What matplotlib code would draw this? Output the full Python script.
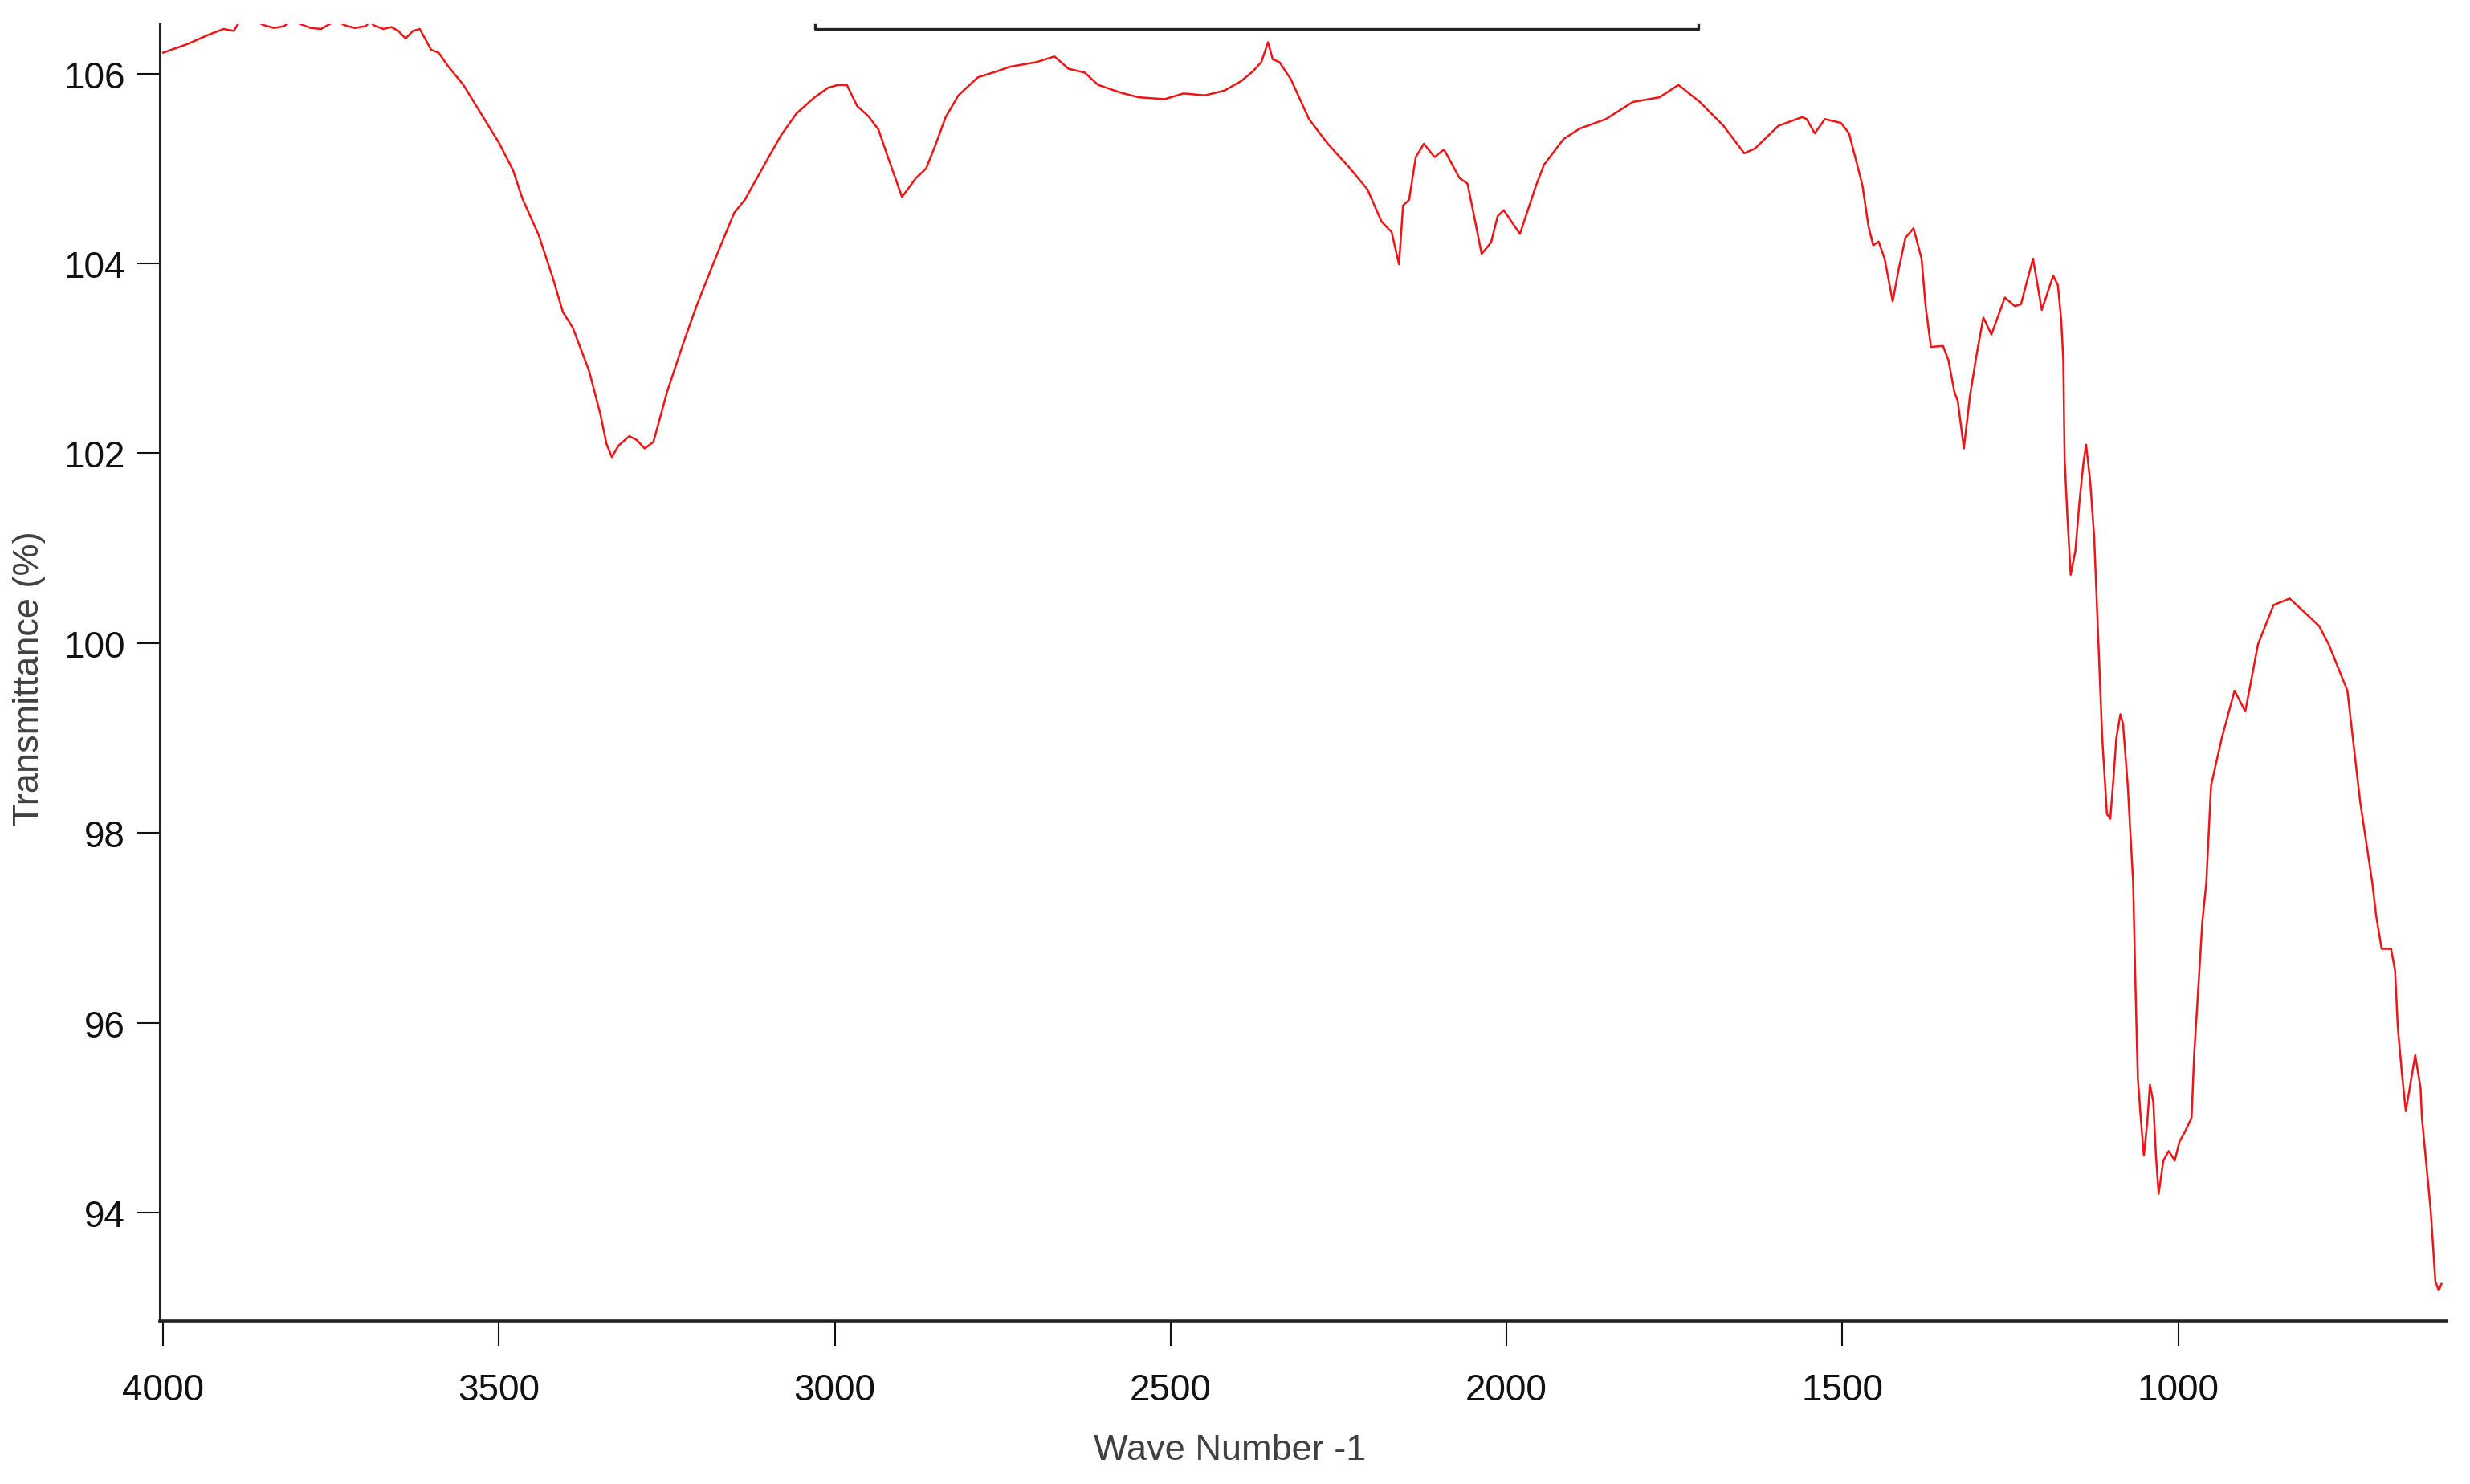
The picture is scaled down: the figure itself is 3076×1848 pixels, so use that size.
import matplotlib
matplotlib.use("Agg")
import matplotlib.pyplot as plt
import numpy as np

# IR spectrum (wavenumber, transmittance %)
wavenumber = [
    4000, 3964, 3932, 3910, 3895, 3885, 3870, 3850, 3835, 3820, 3808, 3795,
    3780, 3765, 3755, 3742, 3730, 3715, 3698, 3692, 3687, 3672, 3660, 3650,
    3639, 3628, 3618, 3601, 3590, 3575, 3553, 3527, 3500, 3479, 3465, 3441,
    3420, 3405, 3390, 3366, 3349, 3340, 3332, 3322, 3306, 3295, 3283, 3270,
    3250, 3226, 3206, 3178, 3150, 3134, 3104, 3080, 3057, 3030, 3010, 2995,
    2982, 2967, 2950, 2935, 2920, 2900, 2879, 2864, 2850, 2835, 2816, 2787,
    2760, 2740, 2700, 2673, 2652, 2628, 2608, 2575, 2548, 2509, 2481, 2449,
    2420, 2395, 2378, 2365, 2355, 2348, 2338, 2321, 2294, 2266, 2234, 2207,
    2186, 2171, 2160, 2154, 2145, 2135, 2123, 2107, 2093, 2070, 2058, 2046,
    2037, 2023, 2013, 2004, 1980, 1956, 1944, 1915, 1891, 1852, 1812, 1772,
    1744, 1712, 1677, 1646, 1630, 1595, 1560, 1553, 1541, 1526, 1502, 1490,
    1479, 1470, 1461, 1454, 1446, 1437, 1425, 1416, 1406, 1394, 1382, 1376,
    1368, 1350, 1342, 1333, 1328, 1319, 1310, 1300, 1290, 1278, 1258, 1243,
    1234, 1216, 1203, 1186, 1179, 1174, 1171, 1169, 1165, 1160, 1153, 1147,
    1141, 1137, 1131, 1125, 1113, 1106, 1101, 1096, 1092, 1086, 1082, 1075,
    1067, 1063, 1060, 1055, 1051, 1046, 1042, 1037, 1033, 1029, 1022, 1014,
    1005, 998, 990, 980, 976, 970, 964, 958, 951, 935, 916, 900,
    881, 858, 834, 811, 790, 776, 748, 729, 711, 705, 697, 683,
    677, 673, 667, 661, 647, 639, 637, 624, 617, 612, 608,
]
transmittance = [
    106.22, 106.31, 106.41, 106.47, 106.45, 106.56, 106.58, 106.51, 106.48, 106.50, 106.56, 106.52,
    106.48, 106.47, 106.51, 106.56, 106.51, 106.48, 106.50, 106.56, 106.51, 106.47, 106.49, 106.45,
    106.37, 106.45, 106.47, 106.25, 106.22, 106.07, 105.88, 105.58, 105.27, 104.98, 104.68, 104.30,
    103.85, 103.49, 103.32, 102.87, 102.41, 102.10, 101.96, 102.08, 102.18, 102.14, 102.05, 102.12,
    102.64, 103.15, 103.55, 104.05, 104.53, 104.67, 105.05, 105.35, 105.58, 105.75, 105.85, 105.88,
    105.88, 105.66, 105.55, 105.41, 105.10, 104.70, 104.90, 105.00, 105.25, 105.54, 105.77, 105.96,
    106.02, 106.07, 106.12, 106.18, 106.05, 106.01, 105.88, 105.80, 105.75, 105.73, 105.79, 105.77,
    105.82, 105.92, 106.02, 106.12, 106.33, 106.15, 106.12, 105.94, 105.52, 105.26, 105.01, 104.78,
    104.44, 104.33, 103.99, 104.61, 104.67, 105.12, 105.26, 105.12, 105.20, 104.90, 104.84, 104.42,
    104.10, 104.22, 104.50, 104.56, 104.31, 104.82, 105.04, 105.31, 105.42, 105.52, 105.70, 105.75,
    105.88, 105.70, 105.45, 105.16, 105.21, 105.45, 105.54, 105.52, 105.37, 105.52, 105.48, 105.37,
    105.07, 104.82, 104.39, 104.19, 104.23, 104.05, 103.60, 103.94, 104.27, 104.37, 104.05, 103.55,
    103.12, 103.13, 102.98, 102.64, 102.55, 102.05, 102.60, 103.04, 103.43, 103.25, 103.64, 103.55,
    103.57, 104.05, 103.51, 103.87, 103.77, 103.40, 102.98, 101.94, 101.35, 100.72, 100.97, 101.48,
    101.90, 102.09, 101.71, 101.12, 99.00, 98.20, 98.15, 98.60, 99.00, 99.25, 99.15, 98.50,
    97.48, 96.24, 95.42, 94.94, 94.60, 94.95, 95.35, 95.17, 94.60, 94.20, 94.55, 94.65,
    94.55, 94.75, 94.85, 95.00, 95.68, 96.36, 97.06, 97.48, 98.50, 99.00, 99.50, 99.28,
    99.99, 100.40, 100.47, 100.32, 100.18, 99.99, 99.50, 98.33, 97.48, 97.12, 96.78, 96.78,
    96.55, 95.96, 95.48, 95.07, 95.66, 95.31, 95.00, 94.03, 93.28, 93.18, 93.25,
]

x_ticks = [4000, 3500, 3000, 2500, 2000, 1500, 1000]
y_ticks = [94, 96, 98, 100, 102, 104, 106]
bracket_range = [3030, 1714]

tick_font = ['Liberation Sans Narrow', 'Liberation Sans', 'DejaVu Sans']
label_font = ['Liberation Sans', 'DejaVu Sans']

fig = plt.figure(figsize=(30.76, 18.49), dpi=100)
ax = fig.add_axes([0.0647, 0.1098, 0.9259, 0.8734])

ax.plot(wavenumber, transmittance, color='#f01414', linewidth=1.8)

# bracket line near the top
y_top = 106.52
ax.plot([bracket_range[0], bracket_range[0], bracket_range[1], bracket_range[1]],
        [y_top - 0.01, y_top - 0.05, y_top - 0.05, y_top - 0.01],
        color='#222222', linewidth=2.4, clip_on=False)

ax.set_xlim(4005, 600)
ax.set_ylim(92.86, y_top)

ax.spines['top'].set_visible(False)
ax.spines['right'].set_visible(False)
ax.spines['left'].set_linewidth(2.2)
ax.spines['bottom'].set_linewidth(2.6)
ax.spines['left'].set_color('#222222')
ax.spines['bottom'].set_color('#222222')

ax.set_xticks(x_ticks)
ax.set_yticks(y_ticks)
ax.set_xticklabels([str(v) for v in x_ticks])
ax.set_yticklabels([str(v) for v in y_ticks])
ax.tick_params(axis='x', direction='out', length=22, width=1.5, pad=24, colors='#111111')
ax.tick_params(axis='y', direction='out', length=21, width=1.5, pad=10, colors='#111111')
for lbl in ax.get_xticklabels() + ax.get_yticklabels():
    lbl.set_family(tick_font)
    lbl.set_fontsize(33)

ax.set_xlabel('Wave Number -1', fontsize=32.5, family=label_font, color='#404040', va='center')
ax.xaxis.set_label_coords(0.468, -0.0997)
ax.set_ylabel('Transmittance (%)', fontsize=32.5, family=label_font, color='#404040', va='center')
ax.yaxis.set_label_coords(-0.0569, 0.496)

fig.savefig('out.png', dpi=100)
plt.close('all')
